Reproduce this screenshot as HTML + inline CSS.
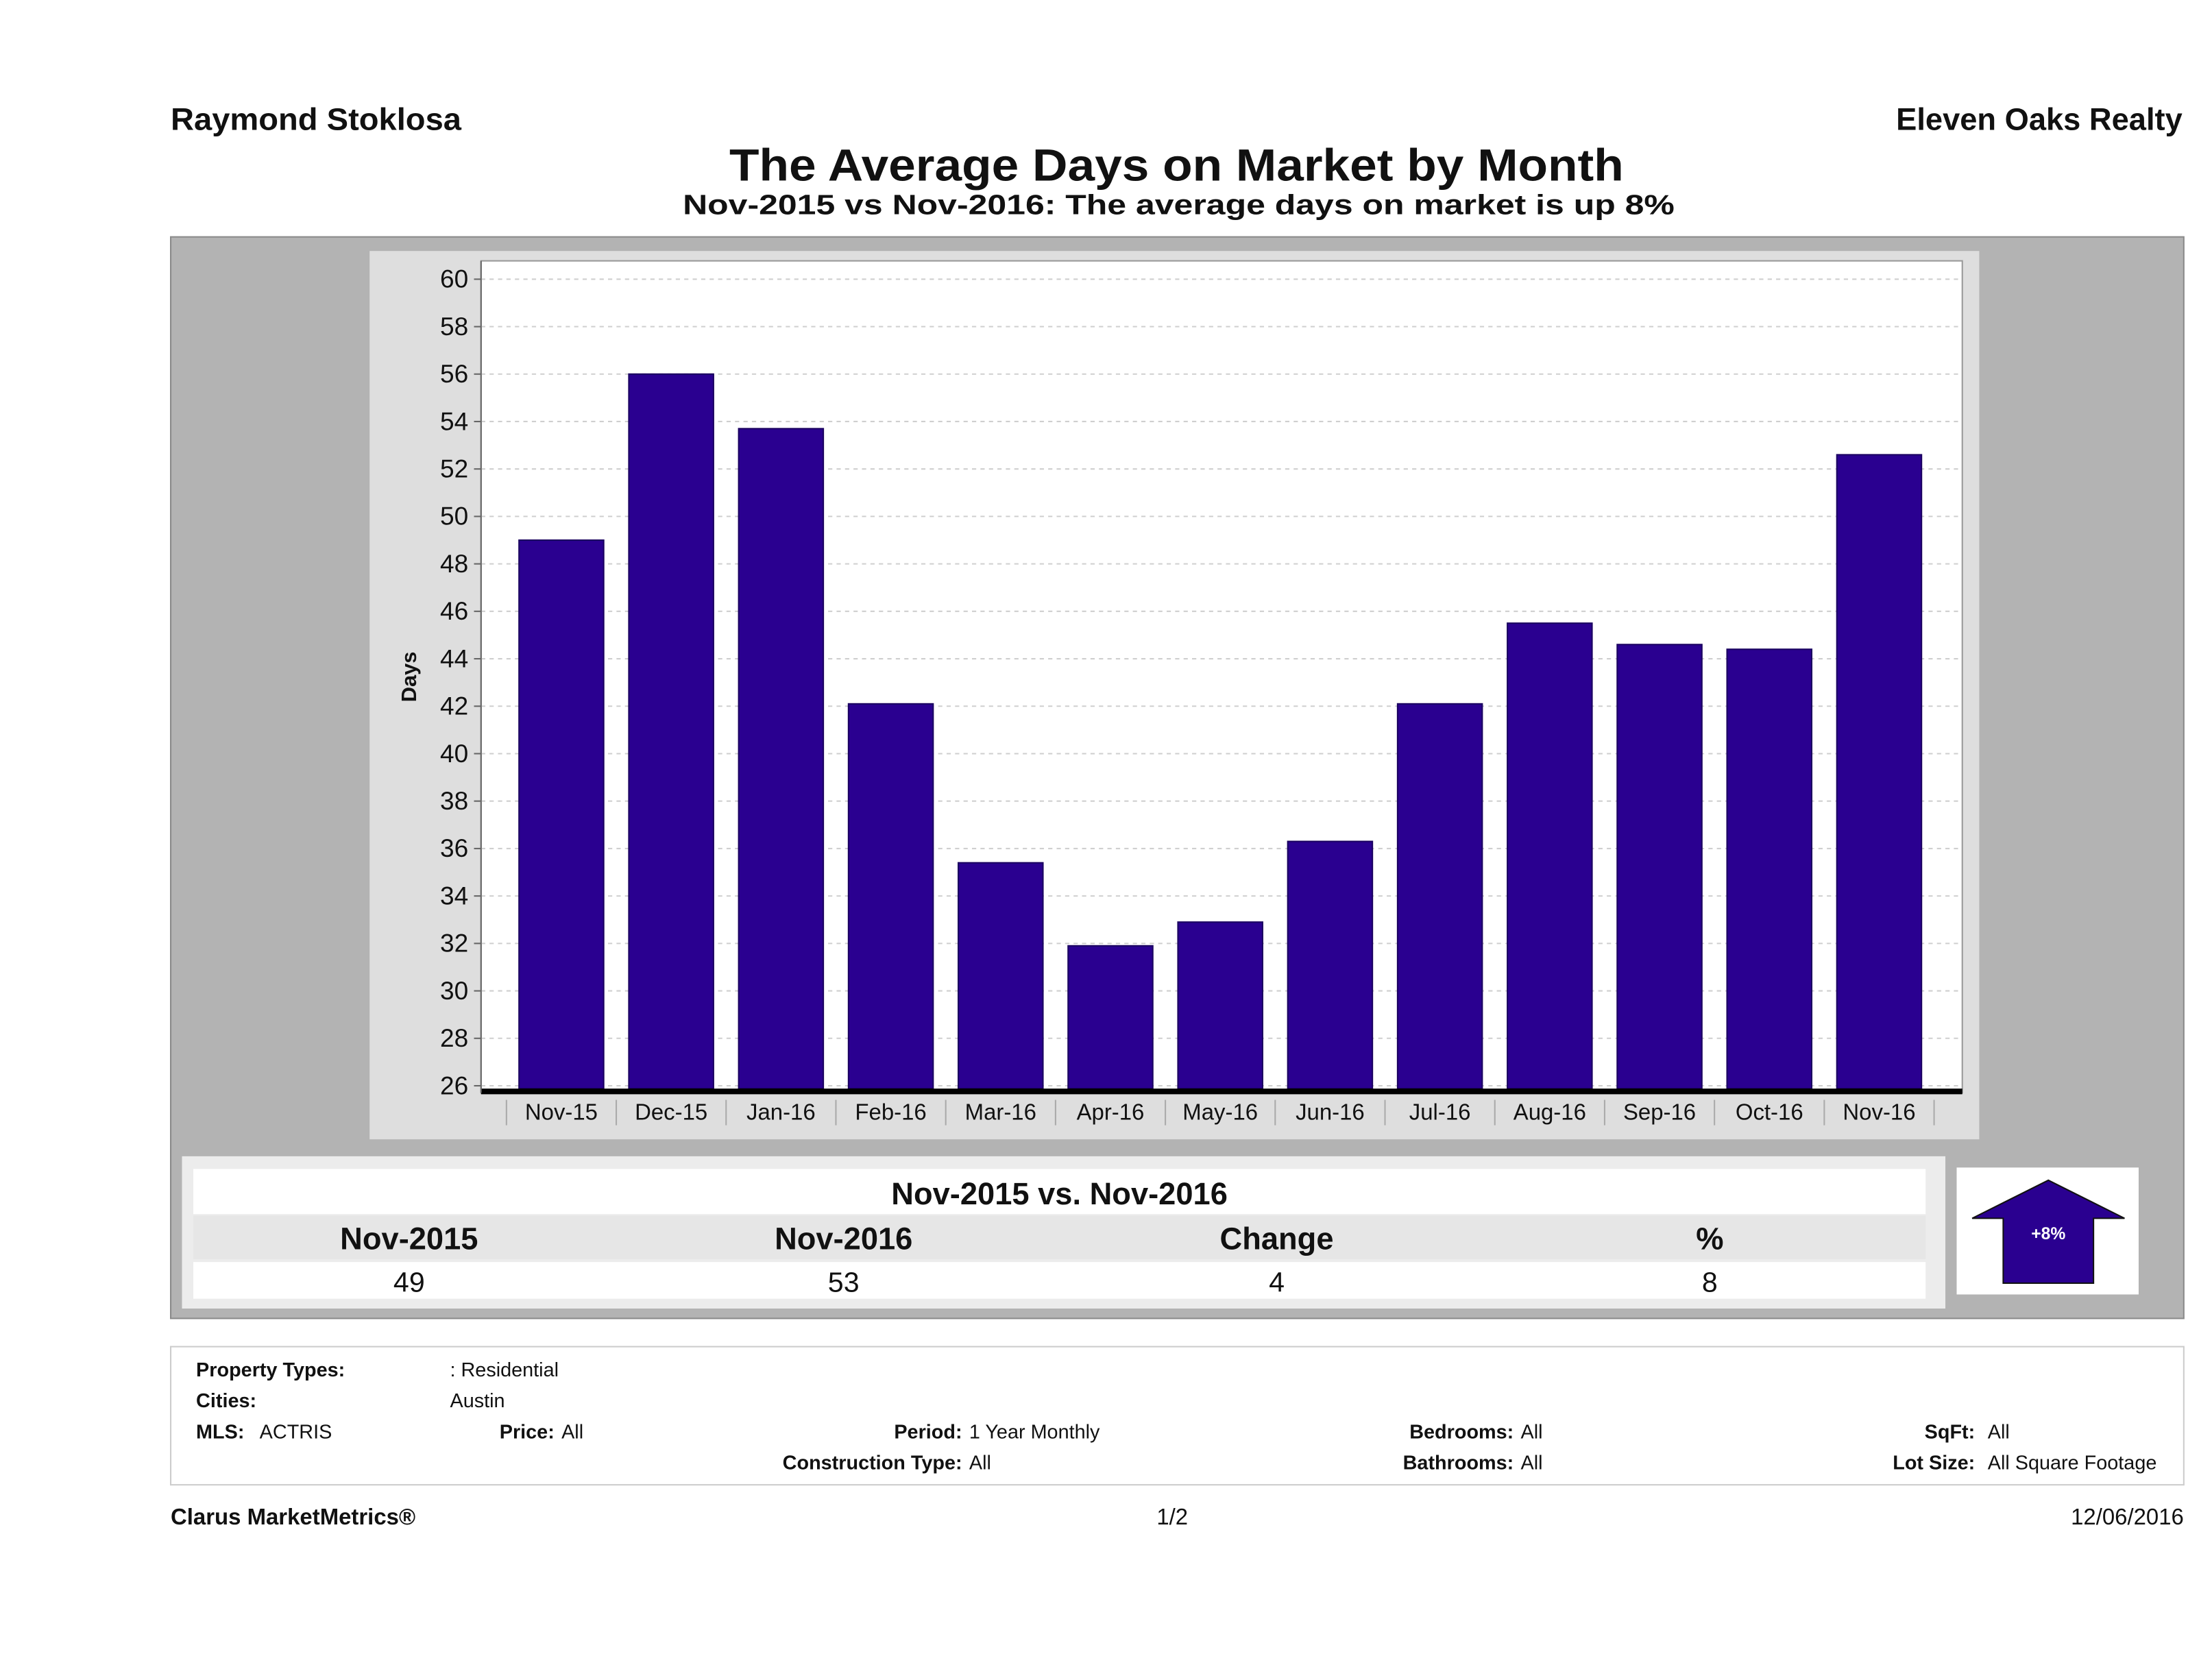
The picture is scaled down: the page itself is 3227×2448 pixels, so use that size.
<!DOCTYPE html>
<html><head><meta charset="utf-8"><style>
html,body{margin:0;padding:0;background:#fff;}
svg{display:block;font-family:"Liberation Sans",sans-serif;}
</style></head><body>
<svg id="c" width="3227" height="2448" viewBox="0 0 1568 1190" preserveAspectRatio="none" xmlns="http://www.w3.org/2000/svg">
<rect width="1568" height="1190" fill="#fff"/>
<text x="121" y="92" font-size="22" font-weight="bold" fill="#111" textLength="206" lengthAdjust="spacingAndGlyphs">Raymond Stoklosa</text>
<text x="1547" y="92" font-size="22" font-weight="bold" text-anchor="end" fill="#111">Eleven Oaks Realty</text>
<text x="517" y="128" font-size="32" font-weight="bold" fill="#111" textLength="634" lengthAdjust="spacingAndGlyphs">The Average Days on Market by Month</text>
<text x="484" y="152" font-size="20" font-weight="bold" fill="#111" textLength="703" lengthAdjust="spacingAndGlyphs">Nov-2015 vs Nov-2016: The average days on market is up 8%</text>
<rect x="121" y="168" width="1427" height="767" fill="#b3b3b3" stroke="#8a8a8a"/>
<rect x="262" y="178" width="1141" height="630" fill="#dedede"/>
<rect x="341" y="185" width="1050" height="590" fill="#fff" stroke="#999"/>
<g id="grid"></g>
<g id="bars"></g>
<line x1="341" y1="774" x2="1391" y2="774" stroke="#000" stroke-width="4"/>
<line x1="341" y1="185" x2="341" y2="775" stroke="#666"/>
<g id="ylabels"></g>
<g id="xlabels"></g>
<text transform="translate(295,480) rotate(-90)" font-size="15" font-weight="bold" text-anchor="middle" fill="#111">Days</text>

<rect x="129" y="820" width="1250" height="108" fill="#ececec"/>
<rect x="137" y="829" width="1228" height="32" fill="#fff"/>
<text x="751" y="854" font-size="22" font-weight="bold" text-anchor="middle" fill="#111">Nov-2015 vs. Nov-2016</text>
<rect x="137" y="862" width="1228" height="31" fill="#e6e6e6"/>
<g font-size="22" font-weight="bold" text-anchor="middle" fill="#111">
<text x="290" y="886">Nov-2015</text>
<text x="598" y="886">Nov-2016</text>
<text x="905" y="886">Change</text>
<text x="1212" y="886">%</text>
</g>
<rect x="137" y="895" width="1228" height="26" fill="#fff"/>
<g font-size="20" text-anchor="middle" fill="#111">
<text x="290" y="916">49</text>
<text x="598" y="916">53</text>
<text x="905" y="916">4</text>
<text x="1212" y="916">8</text>
</g>
<rect x="1387" y="828" width="129" height="90" fill="#fff"/>
<polygon points="1452,837 1506,864 1484,864 1484,910 1420,910 1420,864 1398,864" fill="#2a0090" stroke="#111" stroke-width="1"/>
<text x="1452" y="879" font-size="12" font-weight="bold" text-anchor="middle" fill="#fff">+8%</text>

<rect x="121" y="955" width="1427" height="98" fill="#fff" stroke="#ccc"/>
<g font-size="14" fill="#111">
<text x="139" y="976" font-weight="bold">Property Types:</text><text x="319" y="976">: Residential</text>
<text x="139" y="998" font-weight="bold">Cities:</text><text x="319" y="998">Austin</text>
<text x="139" y="1020" font-weight="bold">MLS:</text><text x="184" y="1020">ACTRIS</text>
<text x="393" y="1020" text-anchor="end" font-weight="bold">Price:</text><text x="398" y="1020">All</text>
<text x="682" y="1020" text-anchor="end" font-weight="bold">Period:</text><text x="687" y="1020">1 Year Monthly</text>
<text x="682" y="1042" text-anchor="end" font-weight="bold">Construction Type:</text><text x="687" y="1042">All</text>
<text x="1073" y="1020" text-anchor="end" font-weight="bold">Bedrooms:</text><text x="1078" y="1020">All</text>
<text x="1073" y="1042" text-anchor="end" font-weight="bold">Bathrooms:</text><text x="1078" y="1042">All</text>
<text x="1400" y="1020" text-anchor="end" font-weight="bold">SqFt:</text><text x="1409" y="1020">All</text>
<text x="1400" y="1042" text-anchor="end" font-weight="bold">Lot Size:</text><text x="1409" y="1042">All Square Footage</text>
</g>
<text x="121" y="1081" font-size="16" font-weight="bold" fill="#111">Clarus MarketMetrics®</text>
<text x="831" y="1081" font-size="16" text-anchor="middle" fill="#111">1/2</text>
<text x="1548" y="1081" font-size="16" text-anchor="end" fill="#111">12/06/2016</text>
</svg>
<script>
const categories = ["Nov-15","Dec-15","Jan-16","Feb-16","Mar-16","Apr-16","May-16","Jun-16","Jul-16","Aug-16","Sep-16","Oct-16","Nov-16"];
const values = [49, 56, 53.7, 42.1, 35.4, 31.9, 32.9, 36.3, 42.1, 45.5, 44.6, 44.4, 52.6];
const yTicks = [26,28,30,32,34,36,38,40,42,44,46,48,50,52,54,56,58,60];
const NS = "http://www.w3.org/2000/svg";
const yMin = 26, yMax = 60, yTop = 198, yBot = 770;
function y(v){ return yBot - (v - yMin) / (yMax - yMin) * (yBot - yTop); }
const bandL = 359, bandR = 1371;
const bw = (bandR - bandL) / categories.length;
function xc(i){ return bandL + bw * (i + 0.5); }
function mk(tag, attrs, parent){ const e = document.createElementNS(NS, tag); for (const k in attrs) e.setAttribute(k, attrs[k]); parent.appendChild(e); return e; }
const grid = document.getElementById('grid'), ylab = document.getElementById('ylabels'), bars = document.getElementById('bars'), xlab = document.getElementById('xlabels');
yTicks.forEach(t => {
  const l = mk('line', {x1:341, x2:1391, y1:y(t), y2:y(t), stroke:'#cfcfcf', 'stroke-dasharray':'3,3'}, grid);
  
  
  mk('line', {x1:336, x2:341, y1:y(t), y2:y(t), stroke:'#666'}, grid);
  const tx = mk('text', {x:332, y:y(t)+6, 'font-size':18, 'text-anchor':'end', fill:'#111'}, ylab);
  tx.textContent = t;
  
  
});
categories.forEach((c, i) => {
  const r = mk('rect', {x:xc(i)-30, y:y(values[i]), width:60, height:yBot - y(values[i]) + 2, fill:'#2a0090', stroke:'#1a0060', 'stroke-width':1}, bars);
  
  
  mk('line', {x1:bandL + bw*i, x2:bandL + bw*i, y1:780, y2:798, stroke:'#aaa'}, xlab);
  const t = mk('text', {x:xc(i), y:794, 'font-size':16, 'text-anchor':'middle', fill:'#111'}, xlab);
  t.textContent = c;
  
  
});
mk('line', {x1:bandR, x2:bandR, y1:780, y2:798, stroke:'#aaa'}, xlab);
</script>
</body></html>
